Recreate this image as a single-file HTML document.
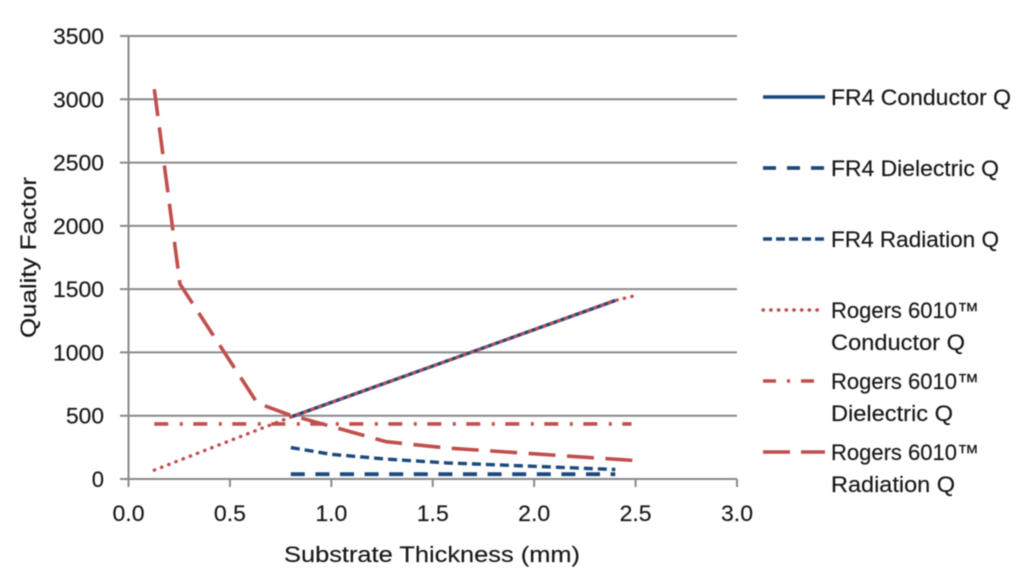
<!DOCTYPE html>
<html lang="en">
<head>
<meta charset="utf-8">
<title>Quality Factor vs Substrate Thickness</title>
<style>
  html, body { margin: 0; padding: 0; background: #fff; }
  svg { display: block; }
  text { font-family: "Liberation Sans", sans-serif; fill: #161616; stroke: #161616; stroke-width: 0.15px; font-size: 22px; }
</style>
</head>
<body>
<svg id="chart" width="1024" height="579" viewBox="0 0 1024 579" xmlns="http://www.w3.org/2000/svg">
  <defs>
    <filter id="soft" x="-5%" y="-5%" width="110%" height="110%"><feGaussianBlur stdDeviation="0.42"/></filter>
  </defs>
  <g id="root" filter="url(#soft)">
    <g id="grid"></g>
    <g id="axes"></g>
    <g id="series"></g>
    <text x="284" y="562" textLength="296" lengthAdjust="spacingAndGlyphs">Substrate Thickness (mm)</text>
    <text transform="translate(36,338) rotate(-90)" x="0" y="0" textLength="161" lengthAdjust="spacingAndGlyphs">Quality Factor</text>
    <g>
      <g>
        <line x1="763" y1="97" x2="825" y2="97" stroke="#1f497d" stroke-width="3.4"/>
        <text x="831" y="105" textLength="180" lengthAdjust="spacingAndGlyphs">FR4 Conductor Q</text>
      </g>
      <g>
        <line x1="763" y1="168" x2="825" y2="168" stroke="#1f497d" stroke-width="3.8" stroke-dasharray="13 11"/>
        <text x="831" y="176" textLength="168" lengthAdjust="spacingAndGlyphs">FR4 Dielectric Q</text>
      </g>
      <g>
        <line x1="763" y1="239" x2="825" y2="239" stroke="#1f497d" stroke-width="3.4" stroke-dasharray="9 4"/>
        <text x="831" y="247" textLength="168" lengthAdjust="spacingAndGlyphs">FR4 Radiation Q</text>
      </g>
      <g>
        <line x1="763" y1="310" x2="823" y2="310" stroke="#c0504d" stroke-width="3.4" stroke-linecap="round" stroke-dasharray="0.4 7.3"/>
        <text x="831" y="318" textLength="148" lengthAdjust="spacingAndGlyphs">Rogers 6010™</text>
        <text x="831" y="350" textLength="134" lengthAdjust="spacingAndGlyphs">Conductor Q</text>
      </g>
      <g>
        <line x1="763" y1="381" x2="815" y2="381" stroke="#c0504d" stroke-width="3.6" stroke-dasharray="13 11 3 11"/>
        <text x="831" y="389" textLength="148" lengthAdjust="spacingAndGlyphs">Rogers 6010™</text>
        <text x="831" y="421" textLength="122" lengthAdjust="spacingAndGlyphs">Dielectric Q</text>
      </g>
      <g>
        <line x1="763" y1="452" x2="825" y2="452" stroke="#c0504d" stroke-width="3.6" stroke-dasharray="27 11"/>
        <text x="831" y="460" textLength="148" lengthAdjust="spacingAndGlyphs">Rogers 6010™</text>
        <text x="831" y="492" textLength="124" lengthAdjust="spacingAndGlyphs">Radiation Q</text>
      </g>
    </g>
  </g>
</svg>
<script>
// Axis tick labels
const yTicks = [0, 500, 1000, 1500, 2000, 2500, 3000, 3500];
const xTicks = [0.0, 0.5, 1.0, 1.5, 2.0, 2.5, 3.0];

// Series values (thickness in mm, quality factor)
const fr4ConductorX = [0.8, 2.4];
const fr4ConductorQ = [490, 1410];
const fr4DielectricX = [0.8, 2.4];
const fr4DielectricQ = [38, 38];
const fr4RadiationX = [0.8, 1.0, 1.27, 1.57, 2.4];
const fr4RadiationQ = [248, 195, 157, 127, 75];
const rogersConductorX = [0.127, 0.8, 2.4, 2.5];
const rogersConductorQ = [70, 490, 1410, 1450];
const rogersDielectricX = [0.127, 2.48];
const rogersDielectricQ = [435, 435];
const rogersRadiationX = [0.127, 0.254, 0.635, 0.787, 1.27, 1.57, 2.5];
const rogersRadiationQ = [3080, 1540, 600, 510, 295, 245, 145];

const SVG_NS = 'http://www.w3.org/2000/svg';
const plot = { left: 128.5, right: 737, top: 36, bottom: 479, xMax: 3, yMax: 3500 };
function xScale(v) { return plot.left + (v / plot.xMax) * (plot.right - plot.left); }
function yScale(v) { return plot.bottom - (v / plot.yMax) * (plot.bottom - plot.top); }

function mk(tag, attrs, parent) {
  const el = document.createElementNS(SVG_NS, tag);
  for (const k in attrs) el.setAttribute(k, attrs[k]);
  parent.appendChild(el);
  return el;
}

const gridG = document.getElementById('grid');
const axesG = document.getElementById('axes');
const seriesG = document.getElementById('series');
const axisColor = '#8a8a8a';

yTicks.forEach(function (t) {
  const y = yScale(t);
  const line = mk('line', { x1: 120, x2: plot.right, y1: y, y2: y, stroke: axisColor, 'stroke-width': 2 }, gridG);
  
  
  const label = mk('text', { x: 104, y: y + 8, 'text-anchor': 'end', textLength: 51, lengthAdjust: 'spacingAndGlyphs' }, axesG);
  
  
  label.textContent = String(t);
  if (String(t).length === 1) { label.removeAttribute('textLength'); label.removeAttribute('lengthAdjust'); }
  if (String(t).length === 3) { label.setAttribute('textLength', 38); }
});

const yAxis = mk('line', { x1: plot.left, x2: plot.left, y1: plot.top, y2: plot.bottom + 8, stroke: axisColor, 'stroke-width': 2 }, axesG);



xTicks.forEach(function (t) {
  const x = xScale(t);
  const tick = mk('line', { x1: x, x2: x, y1: plot.bottom, y2: plot.bottom + 8, stroke: axisColor, 'stroke-width': 2 }, axesG);
  
  
  const label = mk('text', { x: x, y: 521, 'text-anchor': 'middle', textLength: 32, lengthAdjust: 'spacingAndGlyphs' }, axesG);
  
  
  label.textContent = t.toFixed(1);
});

function drawSeries(xs, ys, color, width, dash, cap, name) {
  const pts = xs.map(function (v, i) { return xScale(v).toFixed(1) + ',' + yScale(ys[i]).toFixed(1); }).join(' ');
  const line = mk('polyline', { points: pts, fill: 'none', stroke: color, 'stroke-width': width, 'stroke-linejoin': 'round', 'stroke-linecap': cap }, seriesG);
  if (dash) line.setAttribute('stroke-dasharray', dash);
  
  
}

const blue = '#1f497d';
const red = '#c0504d';
drawSeries(fr4ConductorX, fr4ConductorQ, blue, 3.4, '', 'butt', 'line-fr4-conductor-q');
drawSeries(fr4DielectricX, fr4DielectricQ, blue, 3.8, '14 10.6', 'butt', 'line-fr4-dielectric-q');
drawSeries(fr4RadiationX, fr4RadiationQ, blue, 3.4, '9 5', 'butt', 'line-fr4-radiation-q');
drawSeries(rogersConductorX, rogersConductorQ, red, 3.4, '0.4 7.3', 'round', 'line-rogers-conductor-q');
drawSeries(rogersDielectricX, rogersDielectricQ, red, 3.6, '14 11.5 3 10.5', 'butt', 'line-rogers-dielectric-q');
drawSeries(rogersRadiationX, rogersRadiationQ, red, 3.6, '27 11.5', 'butt', 'line-rogers-radiation-q');
</script>
</body>
</html>
